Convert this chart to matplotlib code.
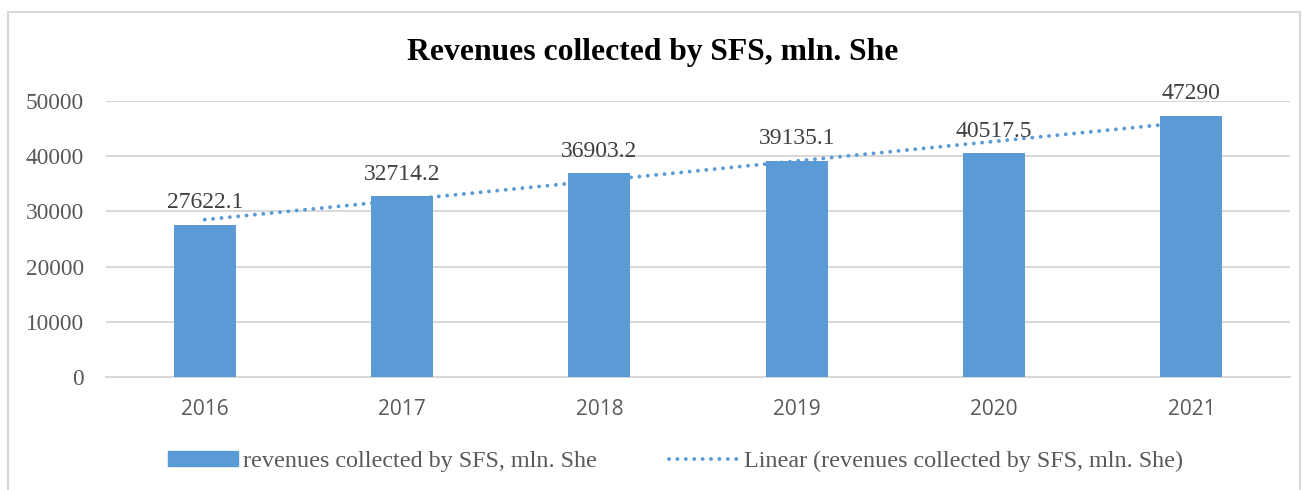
import numpy as np
import matplotlib
matplotlib.use("Agg")
import matplotlib.pyplot as plt
from matplotlib.patches import Rectangle
from matplotlib.lines import Line2D

# data
years = ["2016", "2017", "2018", "2019", "2020", "2021"]
revenues = [27622.1, 32714.2, 36903.2, 39135.1, 40517.5, 47290]
value_labels = ["27622.1", "32714.2", "36903.2", "39135.1", "40517.5", "47290"]
y_ticks = [0, 10000, 20000, 30000, 40000, 50000]

title = "Revenues collected by SFS, mln. She"
bar_name = "revenues collected by SFS, mln. She"
trend_name = "Linear (revenues collected by SFS, mln. She)"

bar_color = "#5b9bd5"
grid_color = "#d9d9d9"
text_gray = "#595959"
label_color = "#404040"
serif = "Liberation Serif"
dots = (0, (0.01, 2.15))

fig = plt.figure(figsize=(13.06, 4.90), dpi=100)
ax = fig.add_axes([0.0812, 0.2306, 0.9066, 0.5633])

x = np.arange(len(years))
ax.bar(x, revenues, width=0.315, color=bar_color, zorder=3)

# linear trend (least squares over 1..n like excel)
coef = np.polyfit(x + 1, revenues, 1)
trend = np.polyval(coef, x + 1)
ax.plot(x, trend, color=bar_color, linestyle=dots, lw=2.8,
        dash_capstyle="round", zorder=2)

# data labels above bars
for xi, val, lab in zip(x, revenues, value_labels):
    ax.annotate(lab, (xi, val), xytext=(0, 12), textcoords="offset points",
                ha="center", va="baseline", fontsize=17, family=serif,
                color=label_color, zorder=4)

ax.set_xlim(-0.5, len(years) - 0.5)
ax.set_ylim(0, 50000)
ax.set_yticks(y_ticks)
ax.set_yticklabels([str(t) for t in y_ticks], family=serif, fontsize=16.8,
                   color=text_gray)
ax.set_xticks(x)
ax.set_xticklabels(years, family="Open Sans", fontsize=15, color=text_gray)
ax.tick_params(axis="both", length=0)
ax.tick_params(axis="y", pad=16)
ax.tick_params(axis="x", pad=16)

ax.grid(axis="y", color=grid_color, lw=1.5, zorder=0)
for s in ["top", "right", "left"]:
    ax.spines[s].set_visible(False)
ax.spines["bottom"].set_color(grid_color)
ax.spines["bottom"].set_linewidth(1.5)

fig.text(0.5, 0.893, title, ha="center", va="center", fontsize=22.8,
         fontweight="bold", family=serif, color="black")

# chart border
fig.patches.append(Rectangle((8 / 1306, -0.05), 1292 / 1306, 1.05 - 12 / 490,
                             transform=fig.transFigure, fill=False,
                             edgecolor="#d9d9d9", lw=1.5))

handles = [
    Rectangle((0, 0), 1, 1, color=bar_color),
    Line2D([0], [0], color=bar_color, linestyle=dots, lw=2.8,
           dash_capstyle="round"),
]
fig.legend(handles, [bar_name, trend_name], loc="center",
           bbox_to_anchor=(0.517, 0.058), ncol=2, frameon=False,
           prop={"family": serif, "size": 17.4}, labelcolor=text_gray,
           handlelength=2.9, handleheight=0.55, handletextpad=0.2,
           columnspacing=3.0)

fig.savefig("out.png", dpi=100)
